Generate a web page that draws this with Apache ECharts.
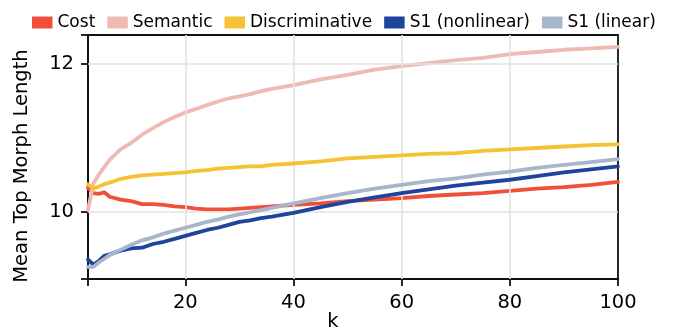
<!DOCTYPE html>
<html>
<head>
<meta charset="utf-8">
<script src="https://cdn.jsdelivr.net/npm/echarts@6/dist/echarts.min.js"></script>
<style>html,body{margin:0;padding:0;background:#fff;}#c{width:677px;height:328px;}</style>
</head>
<body>
<div id="c"></div>
<script>
const kValues = [2,3,4,5,6,8,10,12,14,16,18,20,22,24,26,28,30,32,34,36,40,45,50,55,60,65,70,75,80,85,90,95,100];
const cost = [10.32,10.25,10.24,10.26,10.20,10.16,10.14,10.10,10.10,10.09,10.07,10.06,10.04,10.03,10.03,10.03,10.04,10.05,10.06,10.07,10.09,10.11,10.14,10.16,10.18,10.21,10.23,10.25,10.28,10.31,10.33,10.36,10.40];
const semantic = [10.02,10.38,10.50,10.60,10.70,10.84,10.93,11.04,11.13,11.21,11.28,11.34,11.39,11.44,11.49,11.53,11.56,11.59,11.63,11.66,11.71,11.79,11.85,11.92,11.97,12.01,12.05,12.08,12.13,12.16,12.19,12.21,12.23];
const discriminative = [10.37,10.31,10.34,10.37,10.39,10.44,10.47,10.49,10.50,10.51,10.52,10.53,10.55,10.56,10.58,10.59,10.60,10.61,10.61,10.63,10.65,10.68,10.72,10.74,10.76,10.78,10.79,10.82,10.84,10.86,10.88,10.90,10.91];
const s1Nonlinear = [9.35,9.28,9.33,9.40,9.42,9.47,9.50,9.51,9.56,9.59,9.63,9.67,9.71,9.75,9.78,9.82,9.86,9.88,9.91,9.93,9.98,10.06,10.13,10.19,10.25,10.30,10.35,10.39,10.43,10.48,10.53,10.57,10.61];
const s1Linear = [9.25,9.25,9.31,9.36,9.41,9.48,9.55,9.61,9.65,9.70,9.74,9.78,9.82,9.86,9.89,9.93,9.96,9.99,10.02,10.05,10.11,10.18,10.25,10.31,10.36,10.41,10.45,10.50,10.54,10.59,10.63,10.67,10.71];

const seriesNames = ['Cost','Semantic','Discriminative','S1 (nonlinear)','S1 (linear)'];
const seriesValues = [cost, semantic, discriminative, s1Nonlinear, s1Linear];
const colors = ['#f05039','#eebab4','#f4c232','#1f449c','#a8b6cc'];

const xTicks = [20,40,60,80,100];
const yTicks = [10,12];
const xMin = 2, xMax = 100;
const yMin = 9.086, yMax = 12.39;

const FONT = 'DejaVu Sans';
const chart = echarts.init(document.getElementById('c'), null, {renderer:'canvas'});

// empty bar series carry the legend names so the legend shows filled rectangles
const legendSeries = seriesNames.map((name, i) => ({
  name: name,
  type: 'bar',
  data: [],
  itemStyle: {color: colors[i]},
  silent: true
}));

const lineSeries = seriesNames.map((name, i) => ({
  name: 'line_' + i,
  type: 'line',
  data: kValues.map((k, j) => [k, seriesValues[i][j]]),
  showSymbol: false,
  symbol: 'none',
  lineStyle: {width: 3.8, color: colors[i], cap: 'round', join: 'round'},
  itemStyle: {color: colors[i]},
  z: 3 + i,
  silent: true
}));

const gridSeries = {
  type: 'line',
  name: 'gridlines',
  data: [],
  silent: true,
  z: 1,
  markLine: {
    silent: true,
    symbol: ['none','none'],
    label: {show: false},
    animation: false,
    lineStyle: {color: '#e3e3e3', width: 1.6, type: 'solid'},
    data: xTicks.filter(v => v < xMax).map(v => ({xAxis: v}))
      .concat(yTicks.filter(v => v < yMax).map(v => ({yAxis: v})))
  }
};

chart.setOption({
  animation: false,
  backgroundColor: '#ffffff',
  color: colors,
  textStyle: {fontFamily: FONT},
  legend: {
    top: 9,
    left: 27,
    itemWidth: 20.5,
    itemHeight: 12,
    itemGap: 12,
    icon: 'rect',
    symbolKeepAspect: false,
    itemStyle: {borderWidth: 0},
    textStyle: {fontFamily: FONT, fontSize: 17, color: '#000'},
    data: seriesNames.map((n, i) => ({name: n, icon: 'rect', itemStyle: {color: colors[i], borderWidth: 0}}))
  },
  grid: {
    left: 88, right: 59, top: 35, bottom: 49,
    outerBoundsMode: 'none',
    containLabel: false,
    show: true, borderColor: '#111', borderWidth: 1.8, backgroundColor: 'transparent'
  },
  xAxis: {
    type: 'value',
    min: xMin, max: xMax,
    name: 'k',
    nameLocation: 'middle',
    nameMoveOverlap: false,
    nameGap: 33,
    nameTextStyle: {fontFamily: FONT, fontSize: 19.5, color: '#000', padding: [0, 40, 0, 0]},
    axisLine: {show: true, onZero: false, lineStyle: {color: '#111', width: 1.8}},
    axisTick: {show: true, length: 7, lineStyle: {color: '#111', width: 1.8}, customValues: [xMin].concat(xTicks)},
    axisLabel: {show: true, margin: 14, fontFamily: FONT, fontSize: 19.5, color: '#000', customValues: xTicks},
    splitLine: {show: false}
  },
  yAxis: {
    type: 'value',
    min: yMin, max: yMax,
    name: 'Mean Top Morph Length',
    nameLocation: 'middle',
    nameGap: 56,
    nameTextStyle: {fontFamily: FONT, fontSize: 19.5, color: '#000', padding: [0, 18, 0, 0]},
    axisLine: {show: true, onZero: false, lineStyle: {color: '#111', width: 1.8}},
    axisTick: {show: true, length: 7, lineStyle: {color: '#111', width: 1.8}, customValues: [yMin].concat(yTicks, [yMax])},
    axisLabel: {show: true, margin: 14, fontFamily: FONT, fontSize: 19.5, color: '#000', customValues: yTicks,
      formatter: v => String(Math.round(v))},
    splitLine: {show: false}
  },
  series: legendSeries.concat([gridSeries], lineSeries)
});
</script>
</body>
</html>
